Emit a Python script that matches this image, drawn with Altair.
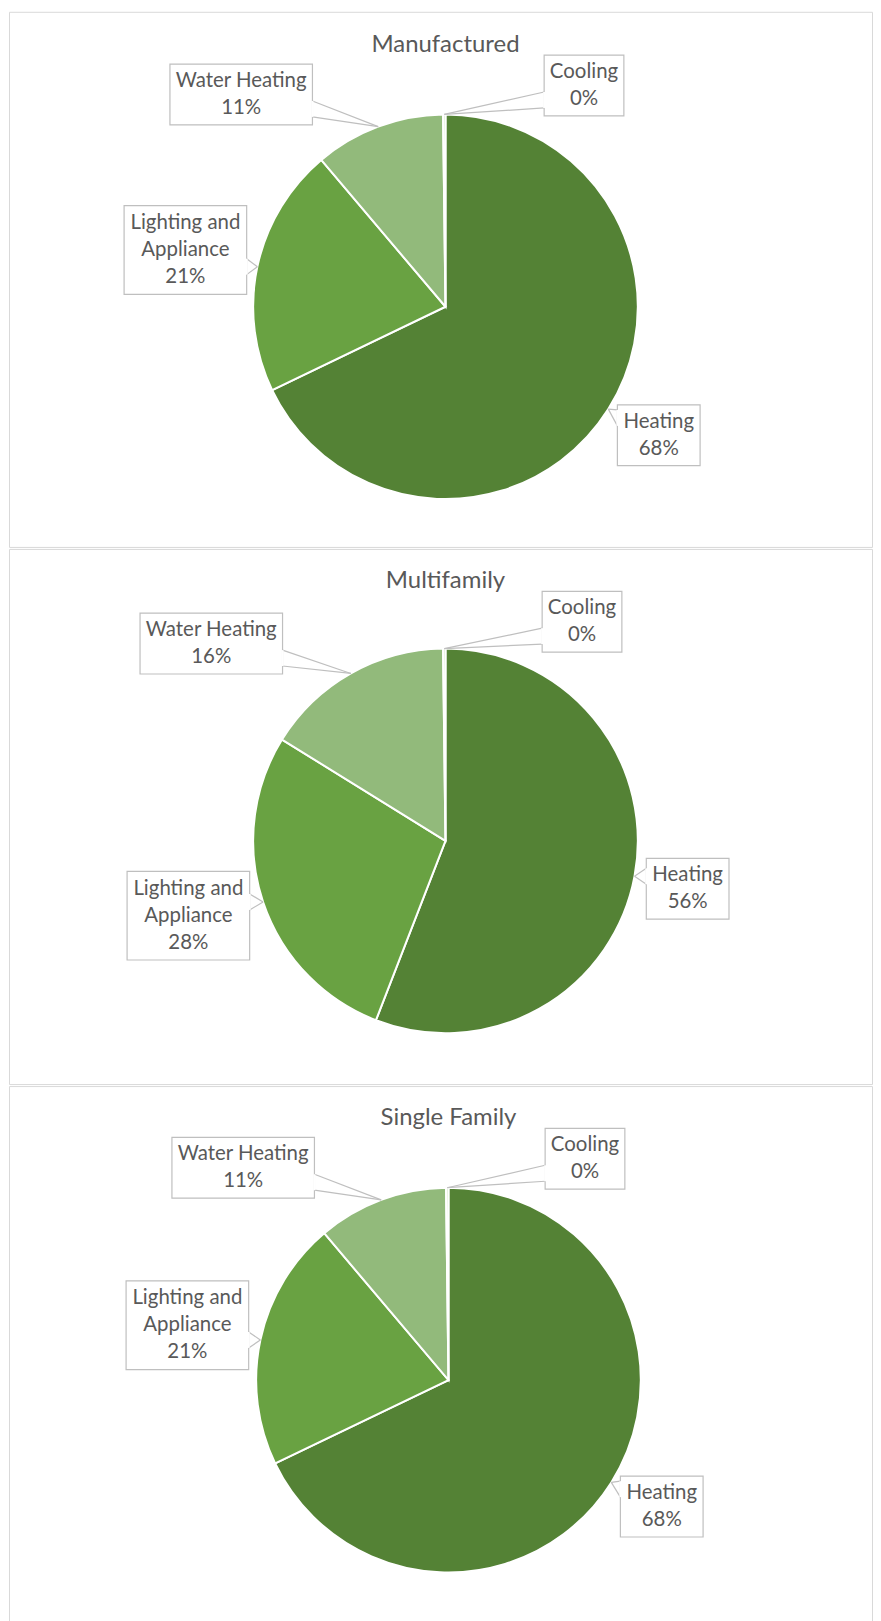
import altair as alt
import pandas as pd

# ---------------- data ----------------
panels = ["Manufactured", "Multifamily", "Single Family"]
categories = ["Heating", "Lighting and Appliance", "Water Heating", "Cooling"]
label_lines = ["Heating", "Lighting and\nAppliance", "Water Heating", "Cooling"]
manufactured = [68, 21, 11, 0.2]
multifamily = [56, 28, 16, 0.2]
single_family = [68, 21, 11, 0.2]
colors = ["#548235", "#69A242", "#92BA7B", "#C5E0B4"]

series = {"Manufactured": manufactured,
          "Multifamily": multifamily,
          "Single Family": single_family}

# ---------------- layout (Excel callout placements) ----------------
PANEL_W, PANEL_H = 866, 537
PIE_R = 193
LINE_H = 27
PIE_CENTER = {"Manufactured": (438, 296), "Multifamily": (438, 293), "Single Family": (441, 295)}
TITLE_Y = {"Manufactured": 33, "Multifamily": 32, "Single Family": 32}
BOX_CENTER = {
    "Manufactured": {"Heating": (652, 425), "Lighting and Appliance": (177, 239),
                     "Water Heating": (233, 83), "Cooling": (577, 74)},
    "Multifamily": {"Heating": (681, 341), "Lighting and Appliance": (180, 368),
                    "Water Heating": (203, 95), "Cooling": (575, 73)},
    "Single Family": {"Heating": (655, 422), "Lighting and Appliance": (179, 240),
                      "Water Heating": (235, 82), "Cooling": (578, 73)},
}
BOX_SIZE = {"Heating": (83, 61), "Lighting and Appliance": (123, 89),
            "Water Heating": (143, 61), "Cooling": (80, 61)}

TEXT_COLOR = "#595959"
BOX_STROKE = "#BFBFBF"
FONT = "Lato"

rows = []
for p in panels:
    for i, c in enumerate(categories):
        bx, by = BOX_CENTER[p][c]
        bw, bh = BOX_SIZE[c]
        rows.append(dict(panel=p, category=c, label=label_lines[i], order=i,
                         value=series[p][i], bx=bx, by=by, bw=bw, bh=bh))
df = pd.DataFrame(rows)

xs = alt.Scale(domain=[0, PANEL_W], nice=False, zero=False)
ys = alt.Scale(domain=[0, PANEL_H], nice=False, zero=False, reverse=True)


def panel_chart(p):
    cx, cy = PIE_CENTER[p]
    base = (
        alt.Chart(df)
        .transform_filter(alt.datum.panel == p)
        .transform_joinaggregate(total="sum(value)")
        .transform_window(cum="sum(value)", sort=[alt.SortField("order", order="ascending")],
                          frame=[None, 0])
        .transform_calculate(
            cx=f"{cx}",
            cy=f"{cy}",
            t0="(datum.cum - datum.value) / datum.total",
            t1="datum.cum / datum.total",
            mid="PI * (datum.t0 + datum.t1)",
            tipx=f"{cx} + {PIE_R} * sin(datum.mid)",
            tipy=f"{cy} - {PIE_R} * cos(datum.mid)",
            x0="datum.bx - datum.bw / 2",
            x1="datum.bx + datum.bw / 2",
            y0="datum.by - datum.bh / 2",
            y1="datum.by + datum.bh / 2",
            side="datum.tipx < datum.x0 ? 'left' : (datum.tipx > datum.x1 ? 'right' : (datum.tipy < datum.y0 ? 'top' : 'bottom'))",
            vert="datum.side == 'left' || datum.side == 'right'",
            ex="datum.side == 'left' ? datum.x0 : datum.x1",
            ey="datum.side == 'top' ? datum.y0 : datum.y1",
            bcy="clamp(datum.tipy, datum.y0 + 13, datum.y1 - 16)",
            bcx="clamp(datum.tipx, datum.x0 + 13, datum.x1 - 13)",
            bax="datum.vert ? datum.ex : datum.bcx - 8",
            bay="datum.vert ? datum.bcy - 8 : datum.ey",
            bbx="datum.vert ? datum.ex : datum.bcx + 8",
            bby="datum.vert ? datum.bcy + 8 : datum.ey",
            txt="datum.label + '\\n' + format(100 * datum.value / datum.total, '.0f') + '%'",
            nlines="length(split(datum.txt, '\\n'))",
            ty=f"datum.by - (datum.nlines - 1) * {LINE_H} / 2",
        )
    )

    arcs = base.mark_arc(outerRadius=PIE_R, stroke="white", strokeWidth=2).encode(
        x=alt.X("cx:Q", scale=xs, axis=None, stack=None),
        y=alt.Y("cy:Q", scale=ys, axis=None, stack=None),
        theta=alt.Theta("t0:Q", scale=alt.Scale(domain=[0, 1], range=[0, 6.283185307179586]),
                        stack=None),
        theta2="t1:Q",
        color=alt.Color("category:N", scale=alt.Scale(domain=categories, range=colors),
                        legend=None),
    )

    wedge_a = base.mark_rule(color=BOX_STROKE, strokeWidth=1.2).encode(
        x=alt.X("bax:Q", scale=xs, axis=None), y=alt.Y("bay:Q", scale=ys, axis=None),
        x2="tipx:Q", y2="tipy:Q")
    wedge_b = base.mark_rule(color=BOX_STROKE, strokeWidth=1.2).encode(
        x=alt.X("bbx:Q", scale=xs, axis=None), y=alt.Y("bby:Q", scale=ys, axis=None),
        x2="tipx:Q", y2="tipy:Q")

    boxes = base.mark_rect(fill="white", stroke=BOX_STROKE, strokeWidth=1.2).encode(
        x=alt.X("x0:Q", scale=xs, axis=None), x2="x1:Q",
        y=alt.Y("y0:Q", scale=ys, axis=None), y2="y1:Q")

    cover = base.mark_rule(color="white", strokeWidth=2).encode(
        x=alt.X("bax:Q", scale=xs, axis=None), y=alt.Y("bay:Q", scale=ys, axis=None),
        x2="bbx:Q", y2="bby:Q")

    labels = base.mark_text(font=FONT, fontSize=20.5, color=TEXT_COLOR, lineBreak="\n",
                            lineHeight=LINE_H, align="center", baseline="middle").encode(
        x=alt.X("bx:Q", scale=xs, axis=None), y=alt.Y("ty:Q", scale=ys, axis=None),
        text="txt:N")

    title = alt.Chart(alt.Data(values=[{"t": p, "tx": cx, "ty": TITLE_Y[p]}])).mark_text(
        font=FONT, fontSize=24, color=TEXT_COLOR, align="center", baseline="middle").encode(
        x=alt.X("tx:Q", scale=xs, axis=None), y=alt.Y("ty:Q", scale=ys, axis=None),
        text="t:N")

    return alt.layer(arcs, wedge_a, wedge_b, boxes, cover, labels, title).properties(
        width=PANEL_W, height=PANEL_H)


chart = (
    alt.vconcat(*[panel_chart(p) for p in panels], spacing=0)
    .properties(padding=0, background="white")
    .configure_view(stroke="#D9D9D9", strokeWidth=1)
)

chart.save("out.html", embed_options={"renderer": "svg", "actions": False})
